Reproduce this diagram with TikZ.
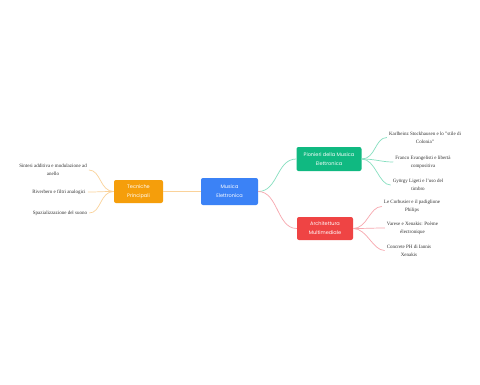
\documentclass[tikz,border=0pt]{standalone}
\usepackage{fontspec}
\setmainfont{Liberation Serif}
\newfontfamily\poppins{Poppins}
\usepackage{xcolor}
\usepackage{tikz}
\definecolor{blu}{HTML}{3B82F6}
\definecolor{arancio}{HTML}{F59E0B}
\definecolor{verde}{HTML}{10B981}
\definecolor{rosso}{HTML}{EF4444}
\definecolor{arancioch}{HTML}{FAD29A}
\definecolor{verdech}{HTML}{86DFC0}
\definecolor{rossoch}{HTML}{F7A7AE}
\definecolor{testo}{HTML}{333333}

\begin{document}
\begin{tikzpicture}[
      x=1pt, y=-1pt,
      ramo/.style={rounded corners=2pt, inner sep=0pt, align=center, text=white,
        font=\poppins\fontsize{5}{9}\selectfont},
      foglia/.style={inner sep=2pt, align=center, text=testo,
        font=\fontsize{5}{8}\selectfont},
      legame/.style={line width=0.7pt}
    ]
    \useasboundingbox[fill=white] (0,0) rectangle (480,384);
    % Rami principali
    \node[ramo, fill=blu, minimum width=57pt, minimum height=27pt] (centro) at (229.5,191.5) {Musica\\Elettronica};
    \node[ramo, fill=arancio, minimum width=49pt, minimum height=23pt] (tecniche) at (138.5,191.5) {Tecniche\\Principali};
    \node[ramo, fill=verde, minimum width=65pt, minimum height=24pt] (pionieri) at (329,159) {Pionieri della Musica\\Elettronica};
    \node[ramo, fill=rosso, minimum width=56pt, minimum height=23pt] (architettura) at (325,228.5) {Architettura\\Multimediale};
    % Foglie a sinistra
    \node[foglia] (sintesi) at (53,170) {Sintesi additiva e modulazione ad\\anello};
    \node[foglia] (riverbero) at (59,192) {Riverbero e filtri analogici};
    \node[foglia] (spazio) at (60,213) {Spazializzazione del suono};
    % Foglie a destra
    \node[foglia] (stockhausen) at (425,137.5) {Karlheinz Stockhausen e lo "stile di\\Colonia"};
    \node[foglia] (evangelisti) at (423,162) {Franco Evangelisti e libertà\\compositiva};
    \node[foglia] (ligeti) at (418,185) {György Ligeti e l'uso del\\timbro};
    \node[foglia] (corbusier) at (412,206.5) {Le Corbusier e il padiglione\\Philips};
    \node[foglia] (varese) at (412.5,228) {Varese e Xenakis: Poème\\électronique};
    \node[foglia] (concrete) at (409,250.5) {Concrete PH di Iannis\\Xenakis};
    % Collegamenti
    \draw[legame, arancioch] (tecniche.east) -- (centro.west);
    \draw[legame, verdech] (centro.east) .. controls +(20,0) and +(-20,0) .. (pionieri.west);
    \draw[legame, rossoch] (centro.east) .. controls +(20,0) and +(-20,0) .. (architettura.west);
    \foreach \f in {sintesi, riverbero, spazio}
      \draw[legame, arancioch] (tecniche.west) .. controls +(-14,0) and +(12,0) .. (\f.east);
    \foreach \f in {stockhausen, evangelisti, ligeti}
      \draw[legame, verdech] (pionieri.east) .. controls +(14,0) and +(-12,0) .. (\f.west);
    \foreach \f in {corbusier, varese, concrete}
      \draw[legame, rossoch] (architettura.east) .. controls +(14,0) and +(-12,0) .. (\f.west);
  \end{tikzpicture}
\end{document}
